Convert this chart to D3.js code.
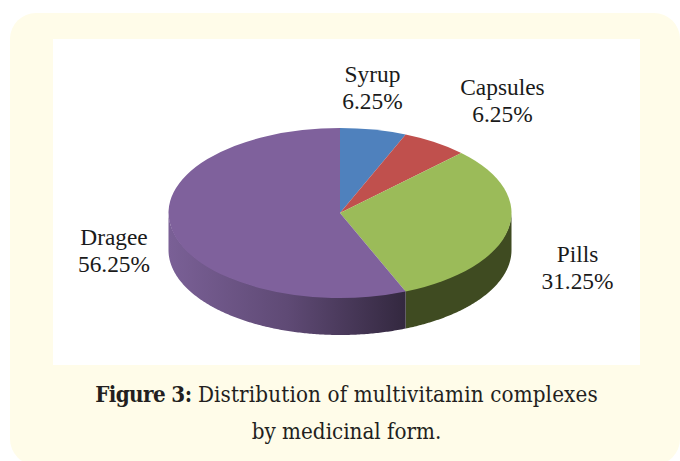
<!DOCTYPE html>
<html>
<head>
<meta charset="utf-8">
<script src="https://cdn.jsdelivr.net/npm/d3@7"></script>
<style>
  html, body { margin: 0; padding: 0; background: #fff; }
  svg { display: block; }
</style>
</head>
<body>
<div id="chart"></div>
<script>
// data
const categories = ["Syrup", "Capsules", "Pills", "Dragee"];
const values = [6.25, 6.25, 31.25, 56.25];
const valueLabels = ["6.25%", "6.25%", "31.25%", "56.25%"];
const topColors = ["#4f81bd", "#c0504d", "#9bbb59", "#7f619c"];
const captionBold = "Figure 3:";
const captionRest = " Distribution of multivitamin complexes";
const captionLine2 = "by medicinal form.";

const width = 680, height = 461;

// pie geometry
const cx = 340, cy = 213, rx = 171.5, ry = 85, depth = 37;

// where each label sits (centre x, first baseline)
const labelPos = [[372.5, 82], [502.5, 95], [577.5, 262], [114, 245]];

const svg = d3.select("#chart")
    .append("svg")
    .attr("width", width)
    .attr("height", height);

// card and white chart area
svg.append("rect")
    .attr("x", 10).attr("y", 13)
    .attr("width", 670).attr("height", 452)
    .attr("rx", 26)
    .attr("fill", "#fffce9");
svg.append("rect")
    .attr("x", 53).attr("y", 39)
    .attr("width", 587).attr("height", 326)
    .attr("fill", "#fff");

const defs = svg.append("defs");
const purpleGrad = defs.append("linearGradient")
    .attr("id", "sidePurple")
    .attr("gradientUnits", "userSpaceOnUse")
    .attr("x1", cx - rx).attr("x2", cx + 66)
    .attr("y1", 0).attr("y2", 0);
purpleGrad.append("stop").attr("offset", "0").attr("stop-color", "#7a6096");
purpleGrad.append("stop").attr("offset", "0.5").attr("stop-color", "#5f4a75");
purpleGrad.append("stop").attr("offset", "1").attr("stop-color", "#33283f");

const pie = d3.pie().sort(null).value(d => d);
const arcs = pie(values);

// point on the ellipse for a pie angle (0 = up, clockwise)
const ex = a => cx + rx * Math.sin(a);
const ey = a => cy - ry * Math.cos(a);

// side wall, only the front half (a between PI/2 and 3PI/2) shows
function sidePath(a0, a1) {
    const from = Math.max(a0, Math.PI / 2), to = Math.min(a1, Math.PI * 1.5);
    if (to <= from) return null;
    const steps = d3.range(from, to, 0.01).concat([to]);
    const front = steps.map(a => [ex(a), ey(a) + depth]);
    const back = steps.slice().reverse().map(a => [ex(a), ey(a) - 1]);
    return d3.line()(front.concat(back)) + "Z";
}

const sideFills = [null, null, "#3f4b21", "url(#sidePurple)"];
svg.append("g")
    .selectAll("path")
    .data(arcs)
    .join("path")
    .attr("d", d => sidePath(d.startAngle, d.endAngle))
    .attr("fill", (d, i) => sideFills[i]);

// top face is a flat d3.arc squashed into the ellipse
const arc = d3.arc().innerRadius(0).outerRadius(rx);
svg.append("g")
    .attr("transform", `translate(${cx},${cy}) scale(1,${ry / rx})`)
    .selectAll("path")
    .data(arcs)
    .join("path")
    .attr("d", arc)
    .attr("fill", (d, i) => topColors[i]);

// slice labels
const labels = svg.append("g")
    .attr("font-family", "'Liberation Serif', serif")
    .attr("font-size", 23.4)
    .attr("fill", "#1a1a1a")
    .attr("text-anchor", "middle");
categories.forEach((c, i) => {
    labels.append("text").attr("x", labelPos[i][0]).attr("y", labelPos[i][1]).text(c);
    labels.append("text").attr("x", labelPos[i][0]).attr("y", labelPos[i][1] + 27).text(valueLabels[i]);
});

// caption, bold part runs a bit tighter in the original
const caption = svg.append("g")
    .attr("font-family", "'DejaVu Serif Condensed', 'Liberation Serif', serif")
    .attr("font-size", 22.2)
    .attr("fill", "#231f20")
    .attr("text-anchor", "middle");
const line1 = caption.append("text").attr("x", 346.5).attr("y", 402);
line1.append("tspan").attr("font-weight", "bold").attr("letter-spacing", -0.6).text(captionBold);
line1.append("tspan").attr("letter-spacing", 0.14).text(captionRest);
caption.append("text").attr("x", 346.5).attr("y", 439).text(captionLine2);
</script>
</body>
</html>
